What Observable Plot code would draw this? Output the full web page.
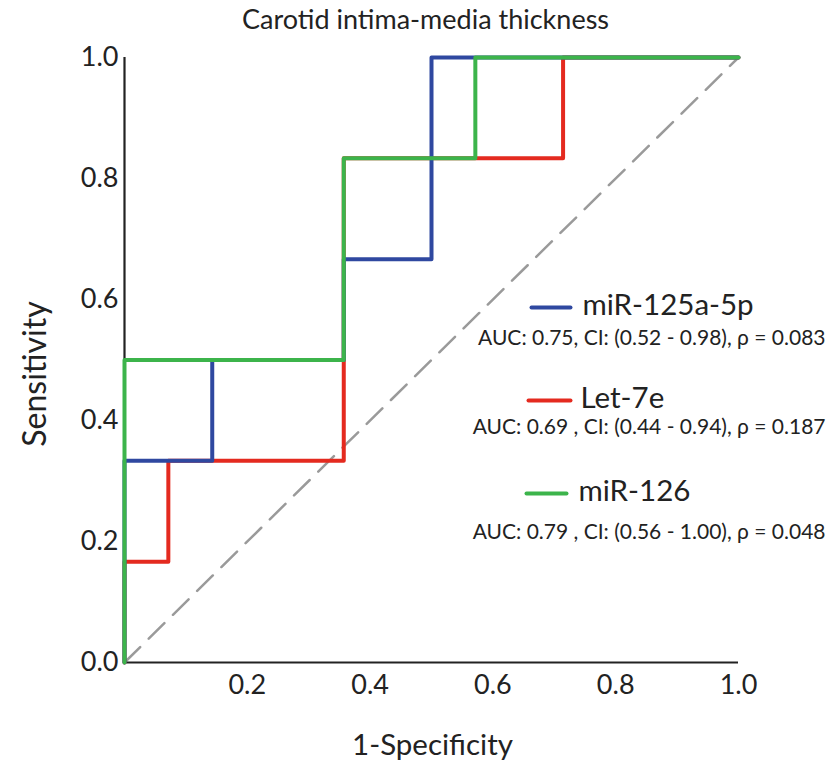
<!DOCTYPE html>
<html>
<head>
<meta charset="utf-8">
<script src="https://cdn.jsdelivr.net/npm/d3@7"></script>
<script src="https://cdn.jsdelivr.net/npm/@observablehq/plot@0.6"></script>
<style>
  html, body { margin: 0; padding: 0; background: #fff; }
  #chart svg { display: block; }
</style>
</head>
<body>
<div id="chart"></div>
<script>
// ROC step vertices (1-Specificity, Sensitivity)
const blueFpr  = [0, 0, 0.1429, 0.1429, 0.3571, 0.3571, 0.5, 0.5, 1];
const blueTpr  = [0, 0.3333, 0.3333, 0.5, 0.5, 0.6667, 0.6667, 1, 1];
const redFpr   = [0, 0, 0.0714, 0.0714, 0.3571, 0.3571, 0.7143, 0.7143, 1];
const redTpr   = [0, 0.1667, 0.1667, 0.3333, 0.3333, 0.8333, 0.8333, 1, 1];
const greenFpr = [0, 0, 0.3571, 0.3571, 0.5714, 0.5714, 1];
const greenTpr = [0, 0.5, 0.5, 0.8333, 0.8333, 1, 1];

const seriesNames = ["miR-125a-5p", "Let-7e", "miR-126"];
const seriesColors = ["#2f48a0", "#e42a1f", "#3cb44b"];
const seriesStats = [
  "AUC: 0.75, CI: (0.52 - 0.98), ρ = 0.083",
  "AUC: 0.69 , CI: (0.44 - 0.94), ρ = 0.187",
  "AUC: 0.79 , CI: (0.56 - 1.00), ρ = 0.048"
];
const yTicks = [0, 0.2, 0.4, 0.6, 0.8, 1.0];
const xTicks = [0.2, 0.4, 0.6, 0.8, 1.0];

const toRows = (fx, ty) => fx.map((x, i) => ({x, y: ty[i]}));
const blue = toRows(blueFpr, blueTpr);
const red = toRows(redFpr, redTpr);
const green = toRows(greenFpr, greenTpr);

const font = "Lato, 'Noto Sans', sans-serif";

// legend layout (pixel offsets from frame top-left)
const legendRows = seriesNames.map((name, i) => ({
  name, color: seriesColors[i], stat: seriesStats[i],
  sy: [250, 343, 436][i], ty: [248, 341, 434][i], sty: [281, 370, 475][i],
  sx1: [407, 404, 402][i], sx2: [446, 446, 442][i], tx: [458, 456, 454][i]
}));

const W = 835, H = 764, ML = 124, MT = 57, MR = 97, MB = 102;
const fw = W - ML - MR, fh = H - MT - MB;

const chart = Plot.plot({
  width: W, height: H,
  marginLeft: ML, marginTop: MT, marginRight: MR, marginBottom: MB,
  x: {domain: [0, 1]},
  y: {domain: [0, 1]},
  style: {fontFamily: font, background: "#fff", color: "#222"},
  marks: [
    Plot.line([{x: 0, y: 0}, {x: 1, y: 1}], {x: "x", y: "y", stroke: "#9a9a9a", strokeWidth: 2.5, strokeDasharray: "22,12"}),
    Plot.ruleY([0], {x1: 0, x2: 1, stroke: "#222", strokeWidth: 2.2}),
    Plot.ruleX([0], {y1: 0, y2: 1, stroke: "#222", strokeWidth: 2.2}),
    Plot.line(red, {x: "x", y: "y", stroke: seriesColors[1], strokeWidth: 4}),
    Plot.line(blue, {x: "x", y: "y", stroke: seriesColors[0], strokeWidth: 4}),
    Plot.line(green, {x: "x", y: "y", stroke: seriesColors[2], strokeWidth: 4}),
    Plot.axisY({ticks: yTicks, tickSize: 0, tickPadding: 6, fontSize: 27, tickFormat: d3.format(".1f"), label: null}),
    Plot.axisX({ticks: xTicks, tickSize: 0, tickPadding: 12, fontSize: 27, tickFormat: d3.format(".1f"), label: null}),
    Plot.text(["Carotid intima-media thickness"], {frameAnchor: "top", lineAnchor: "middle", dx: -6, dy: -37, fontSize: 27, fill: "#222"}),
    Plot.text(["Sensitivity"], {frameAnchor: "left", textAnchor: "middle", lineAnchor: "middle", dx: -89, dy: 14, rotate: -90, fontSize: 32, fill: "#222"}),
    Plot.text(["1-Specificity"], {frameAnchor: "bottom", textAnchor: "middle", lineAnchor: "middle", dx: 1, dy: 83, fontSize: 29.5, fill: "#222"}),
    // legend
    ...legendRows.map(r => Plot.text([r.name], {frameAnchor: "top-left", textAnchor: "start", lineAnchor: "middle", dx: r.tx, dy: r.ty, fontSize: 29.5, fill: "#222"})),
    ...legendRows.map(r => Plot.text([r.stat], {frameAnchor: "top-left", textAnchor: "end", lineAnchor: "middle", dx: 701, dy: r.sty, fontSize: 21, fill: "#222"})),
    ...legendRows.map(r => Plot.line([{x: r.sx1 / fw, y: 1 - r.sy / fh}, {x: r.sx2 / fw, y: 1 - r.sy / fh}], {x: "x", y: "y", stroke: r.color, strokeWidth: 4}))
  ]
});
document.getElementById("chart").appendChild(chart);
</script>
</body>
</html>
